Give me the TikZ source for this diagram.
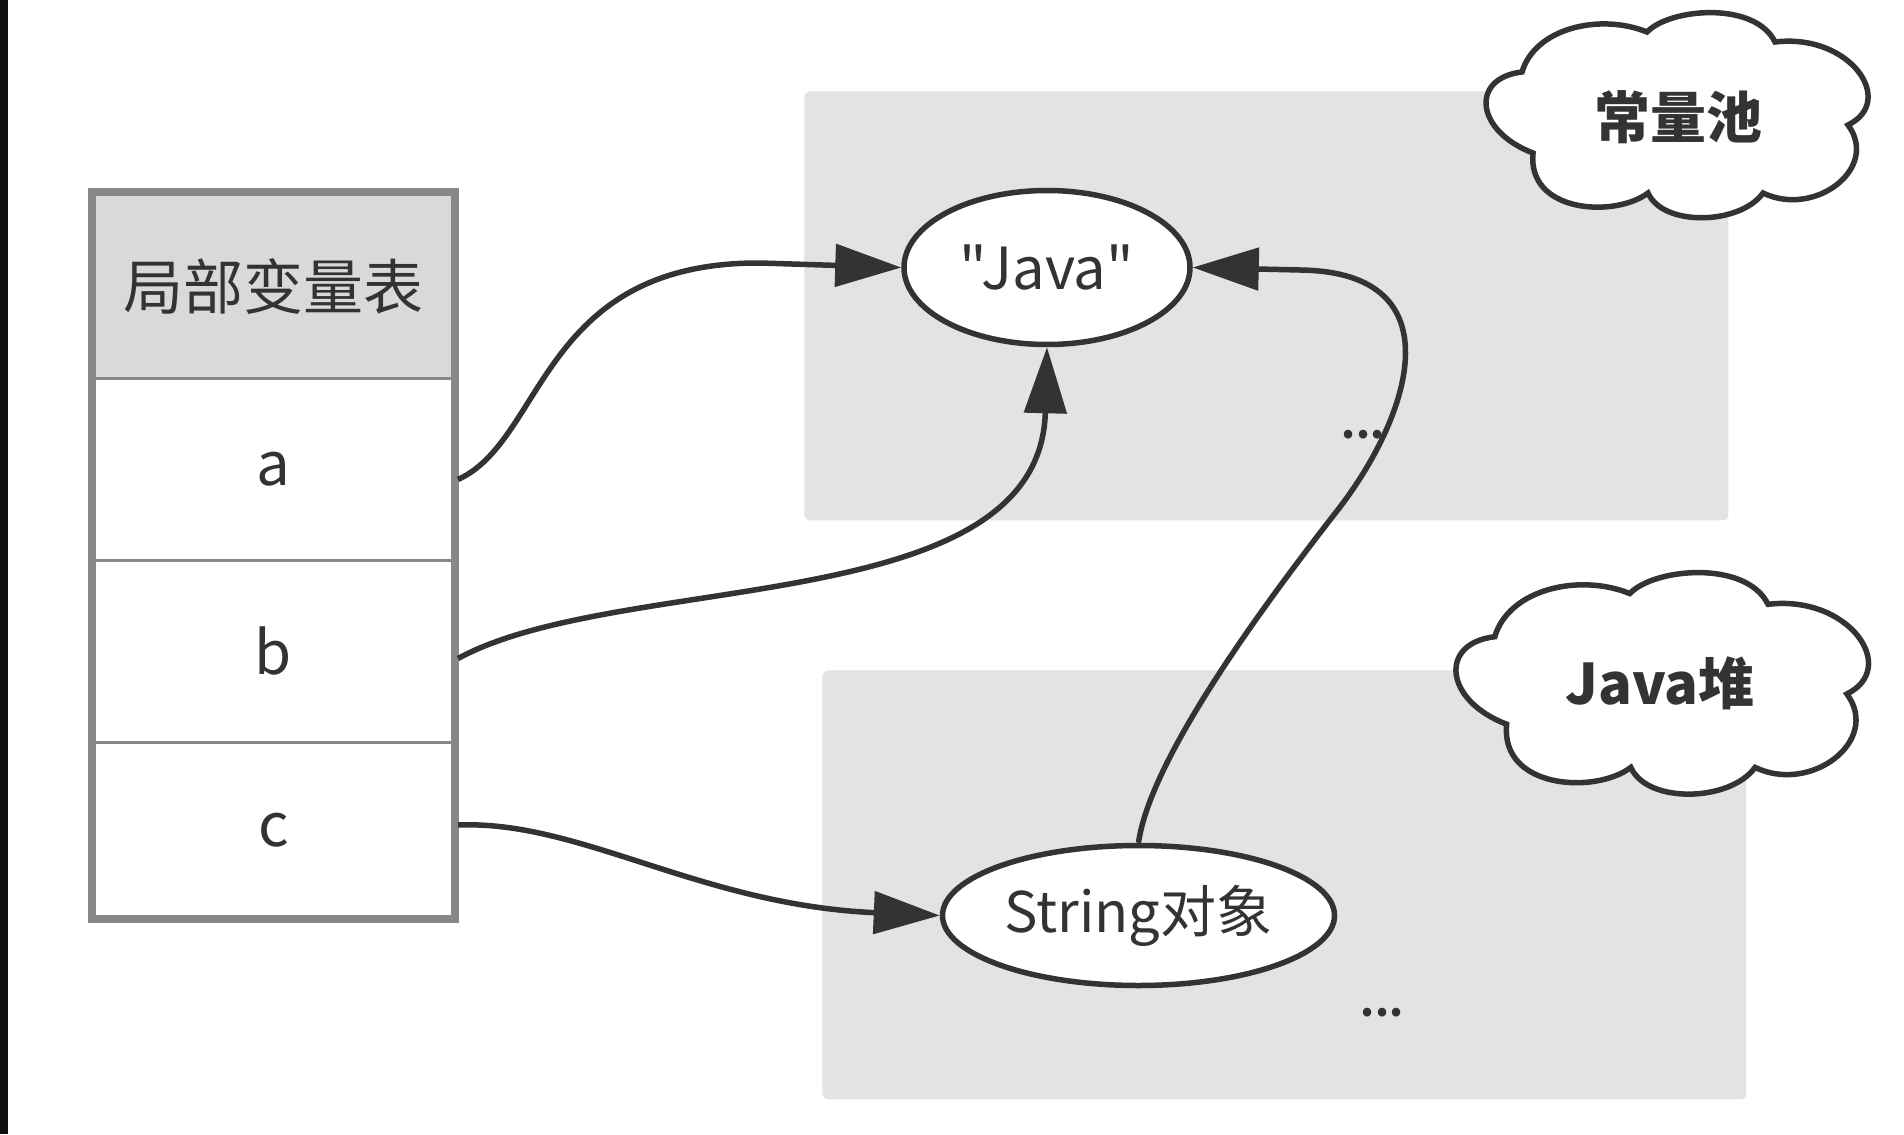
\documentclass[tikz,border=0pt]{standalone}
\usepackage{fontspec}
\setmainfont{Noto Sans CJK SC}
\newfontfamily\plainfont{Noto Sans CJK SC}
\usetikzlibrary{arrows.meta,shapes.geometric,calc}
\definecolor{ink}{RGB}{51,51,51}
\definecolor{regiongray}{RGB}{227,227,227}
\definecolor{hdrgray}{RGB}{217,217,217}
\definecolor{tabline}{RGB}{136,136,136}
\definecolor{barblack}{RGB}{15,15,15}
\tikzset{
  cloudpic/.pic={
    \path[draw=ink, fill=white, line width=2.75pt]
      (-153,-41) .. controls (-140,-85) and (-75,-100) .. (-28,-81)
      .. controls (-5,-105) and (80,-112) .. (100,-71)
      .. controls (175,-80) and (222,-12) .. (173,12)
      .. controls (205,55) and (140,105) .. (88,80)
      .. controls (65,112) and (-12,114) .. (-27,80)
      .. controls (-60,105) and (-148,100) .. (-142,40)
      .. controls (-200,18) and (-205,-35) .. (-153,-41) -- cycle;
  }
}
\begin{document}
\begin{tikzpicture}[x=0.5pt,y=-0.5pt,
  region/.style={fill=regiongray, rounded corners=3pt, inner sep=0pt, anchor=north west},
  cell/.style={draw=tabline, line width=1.5pt, minimum width=180pt, inner sep=0pt, font=\fontsize{30}{36}\selectfont, text=ink, anchor=north west},
  oval/.style={ellipse, draw=ink, fill=white, line width=2.75pt, inner sep=0pt, text=ink, font=\plainfont\fontsize{28}{34}\selectfont},
  link/.style={draw=ink, line width=2.75pt, -{Triangle[length=33pt,width=21pt]}},
  cloudtext/.style={font=\bfseries\fontsize{28}{34}\selectfont, text=ink, inner sep=0pt},
  dots/.style={font=\bfseries\fontsize{20}{24}\selectfont, text=ink, inner sep=0pt}
]
\useasboundingbox (0,0) rectangle (1904,1134);
\fill[white] (0,0) rectangle (1904,1134);
\fill[barblack] (0,0) rectangle (8,1134);

% regions
\node[region, minimum width=462pt, minimum height=214.5pt] (pool) at (804,91) {};
\node[region, minimum width=462pt, minimum height=214.5pt] (heap) at (822,670) {};

% clouds
\pic at (1675,113) {cloudpic};
\node[cloudtext] (poollabel) at (1678,117) {常量池};
\pic[scale=1.08] at (1660,681) {cloudpic};
\node[cloudtext] (heaplabel) at (1660,683) {Java堆};

% table
\node[cell, fill=hdrgray, minimum height=92.5pt] (hdr) at (92,192) {局部变量表};
\node[cell, fill=white, minimum height=91pt] (ra) at (92,377) {a};
\node[cell, fill=white, minimum height=91pt] (rb) at (92,559) {b};
\node[cell, fill=white, minimum height=87.5pt] (rc) at (92,741) {c};
\draw[tabline, line width=4pt] (hdr.north west) rectangle (rc.south east);

% ovals
\node[oval, minimum width=143pt, minimum height=77pt, font=\plainfont\fontsize{29}{34}\selectfont] (java) at (1047,267.5) {"Java"};
\node[oval, minimum width=196pt, minimum height=70pt] (str) at (1138.5,915.5) {String对象};

% dots
\node[dots] (d1) at (1363,435) {...};
\node[dots] (d2) at (1382,1013) {...};

% connectors
\coordinate (abend) at (760,263);
\coordinate (sbend) at (1333,516);
\coordinate (sstraight) at (1300,270);
\draw[link] ($(ra.east)+(3,10)$) .. controls (545,440) and (540,262) .. (abend) -- (java.west);
\draw[link] ($(rb.east)+(3,7)$) .. controls (620,570) and (1040,620) .. (java.south);
\draw[link] ($(rc.east)+(3,-5)$) .. controls (580,820) and (700,905) .. (str.west);
\draw[link] (str.north) .. controls (1150,760) and (1260,610) .. (sbend)
   .. controls (1410,420) and (1460,272) .. (sstraight) -- (java.east);
\end{tikzpicture}
\end{document}
